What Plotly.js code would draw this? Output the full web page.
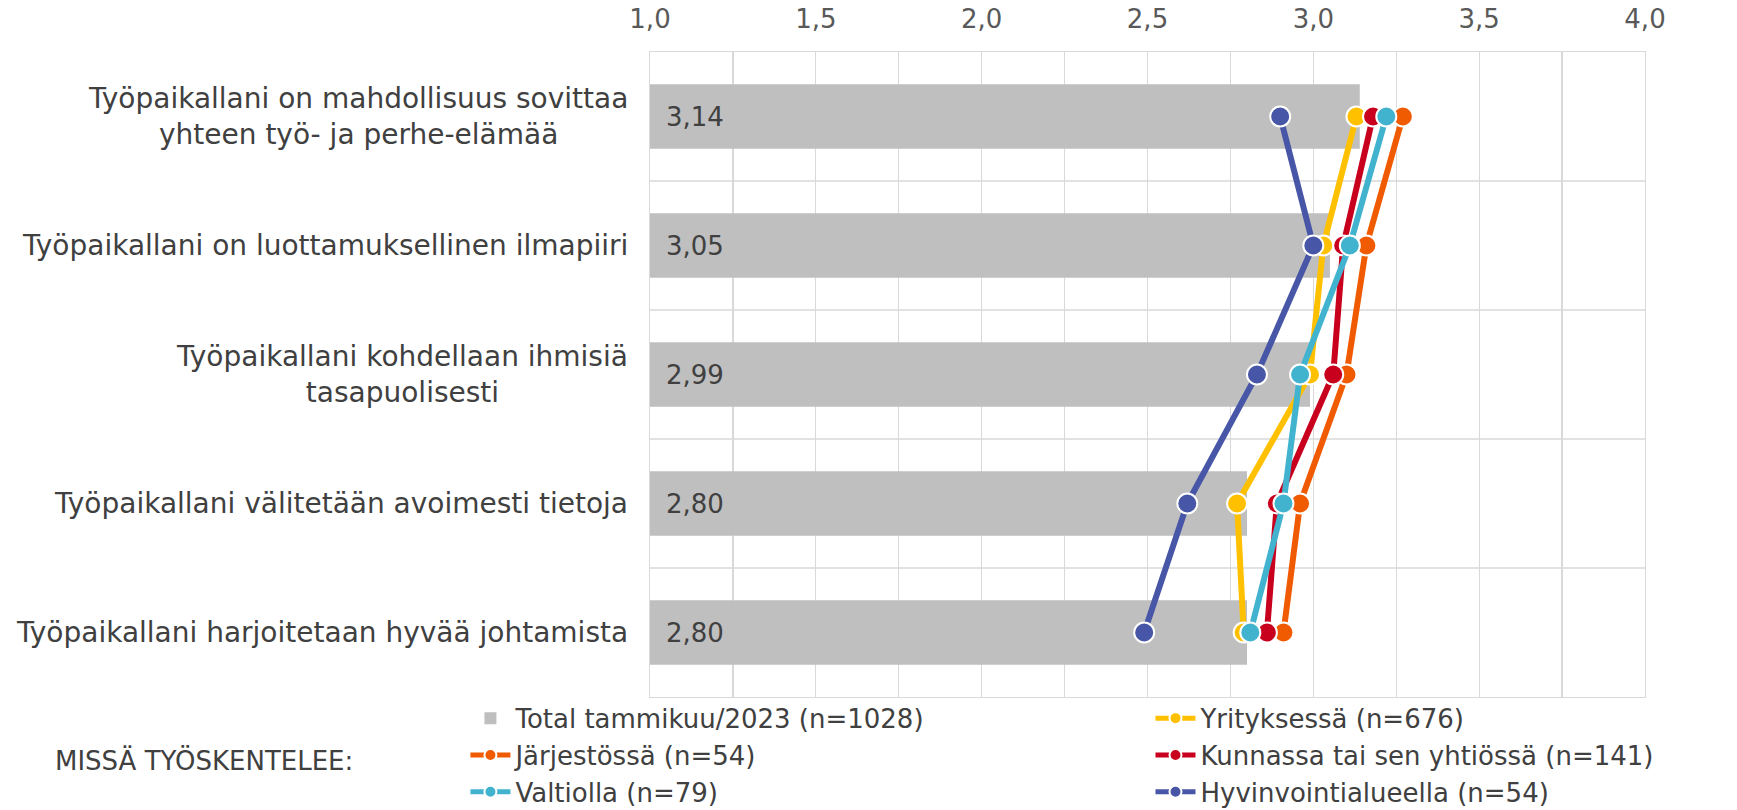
<!DOCTYPE html>
<html>
<head>
<meta charset="utf-8">
<script src="https://cdn.plot.ly/plotly-3.0.1.min.js"></script>
<style>html,body{margin:0;padding:0;background:#fff;}#chart{width:1737px;height:810px;}</style>
</head>
<body>
<div id="chart"></div>
<script>
// ---- data ----
const categories = [
  "Työpaikallani on mahdollisuus sovittaa<br>yhteen työ- ja perhe-elämää",
  "Työpaikallani on luottamuksellinen ilmapiiri",
  "Työpaikallani kohdellaan ihmisiä<br>tasapuolisesti",
  "Työpaikallani välitetään avoimesti tietoja",
  "Työpaikallani harjoitetaan hyvää johtamista"
];
const totalValues = [3.14, 3.05, 2.99, 2.80, 2.80];
const yritysValues = [3.13, 3.03, 2.99, 2.77, 2.79];
const jarjestoValues = [3.27, 3.16, 3.10, 2.96, 2.91];
const kuntaValues = [3.18, 3.09, 3.06, 2.89, 2.86];
const valtioValues = [3.22, 3.11, 2.96, 2.91, 2.81];
const hyvinvointiValues = [2.90, 3.00, 2.83, 2.62, 2.49];

const seriesNames = [
  "Total tammikuu/2023 (n=1028)",
  "Yrityksessä (n=676)",
  "Järjestössä (n=54)",
  "Kunnassa tai sen yhtiössä (n=141)",
  "Valtiolla (n=79)",
  "Hyvinvointialueella (n=54)"
];
const legendTitle = "MISSÄ TYÖSKENTELEE:";
const xTickVals = [1.0, 1.25, 1.5, 1.75, 2.0, 2.25, 2.5, 2.75, 3.0, 3.25, 3.5, 3.75, 4.0];
const xTickText = ["1,0", "", "1,5", "", "2,0", "", "2,5", "", "3,0", "", "3,5", "", "4,0"];

// ---- styles ----
const FONT = "DejaVu Sans";
const colors = {
  total: "#BFBFBF",
  yritys: "#FFC000",
  jarjesto: "#F05A00",
  kunta: "#C8001E",
  valtio: "#41B3CE",
  hyvin: "#4756A6"
};

function lineTrace(name, values, color, legendId) {
  return {
    type: "scatter",
    mode: "lines+markers",
    name: name,
    legend: legendId,
    x: values,
    y: categories,
    line: {color: color, width: 6},
    marker: {color: color, size: 20, line: {color: "#FFFFFF", width: 2}},
    cliponaxis: false
  };
}

const traces = [
  {
    type: "bar",
    orientation: "h",
    name: seriesNames[0],
    legend: "legend",
    x: totalValues,
    y: categories,
    marker: {color: colors.total},
    width: 0.5
  },
  lineTrace(seriesNames[1], yritysValues, colors.yritys, "legend2"),
  lineTrace(seriesNames[2], jarjestoValues, colors.jarjesto, "legend"),
  lineTrace(seriesNames[3], kuntaValues, colors.kunta, "legend2"),
  lineTrace(seriesNames[4], valtioValues, colors.valtio, "legend"),
  lineTrace(seriesNames[5], hyvinvointiValues, colors.hyvin, "legend2")
];

const annotations = [];
categories.forEach((c, i) => {
  annotations.push({
    xref: "paper", yref: "y", x: 0, y: c,
    xanchor: "right", yanchor: "middle", xshift: -20,
    align: "center", showarrow: false,
    text: c,
    font: {family: FONT, size: 28, color: "#404040"}
  });
  annotations.push({
    xref: "x", yref: "y", x: xTickVals[0], y: c,
    xanchor: "left", yanchor: "middle", xshift: 14,
    showarrow: false,
    text: totalValues[i].toFixed(2).replace(".", ","),
    font: {family: FONT, size: 26, color: "#404040"}
  });
});
annotations.push({
  xref: "paper", yref: "paper", x: -0.6, y: -0.099,
  xanchor: "left", yanchor: "middle", showarrow: false,
  text: legendTitle,
  font: {family: FONT, size: 26, color: "#404040"}
});

const shapes = [];
for (let i = 0; i < categories.length - 1; i++) {
  shapes.push({
    type: "line", xref: "paper", yref: "y", x0: 0, x1: 1,
    y0: i + 0.5, y1: i + 0.5, layer: "below",
    line: {color: "#D9D9D9", width: 1.3}
  });
}

const legendCommon = {
  orientation: "v",
  yanchor: "top",
  xanchor: "left",
  itemwidth: 40,
  itemsizing: "constant",
  font: {family: FONT, size: 26, color: "#404040"},
  traceorder: "normal",
  itemclick: false, itemdoubleclick: false,
  bgcolor: "rgba(0,0,0,0)"
};

const layout = {
  width: 1737, height: 810,
  margin: {l: 650, r: 92, t: 52, b: 113, autoexpand: false},
  paper_bgcolor: "#FFFFFF", plot_bgcolor: "#FFFFFF",
  font: {family: FONT, size: 26, color: "#404040"},
  separators: ",.",
  showlegend: true,
  xaxis: {
    side: "top",
    range: [1, 4],
    tickvals: xTickVals, ticktext: xTickText,
    showgrid: true, gridcolor: "#D9D9D9", gridwidth: 1.3,
    showline: true, mirror: true, linecolor: "#D9D9D9", linewidth: 1.3,
    zeroline: false, ticks: "",
    ticklabelstandoff: 12,
    tickfont: {family: FONT, size: 26, color: "#595959"},
    fixedrange: true
  },
  yaxis: {
    type: "category",
    autorange: "reversed",
    showticklabels: false,
    showgrid: false,
    showline: true, mirror: true, linecolor: "#D9D9D9", linewidth: 1.3,
    zeroline: false, ticks: "",
    fixedrange: true
  },
  legend: Object.assign({}, legendCommon, {x: -0.1855, y: 0.0035}),
  legend2: Object.assign({}, legendCommon, {x: 0.503, y: 0.0035}),
  annotations: annotations,
  shapes: shapes
};

Plotly.newPlot("chart", traces, layout, {displayModeBar: false, staticPlot: true});
</script>
</body>
</html>
